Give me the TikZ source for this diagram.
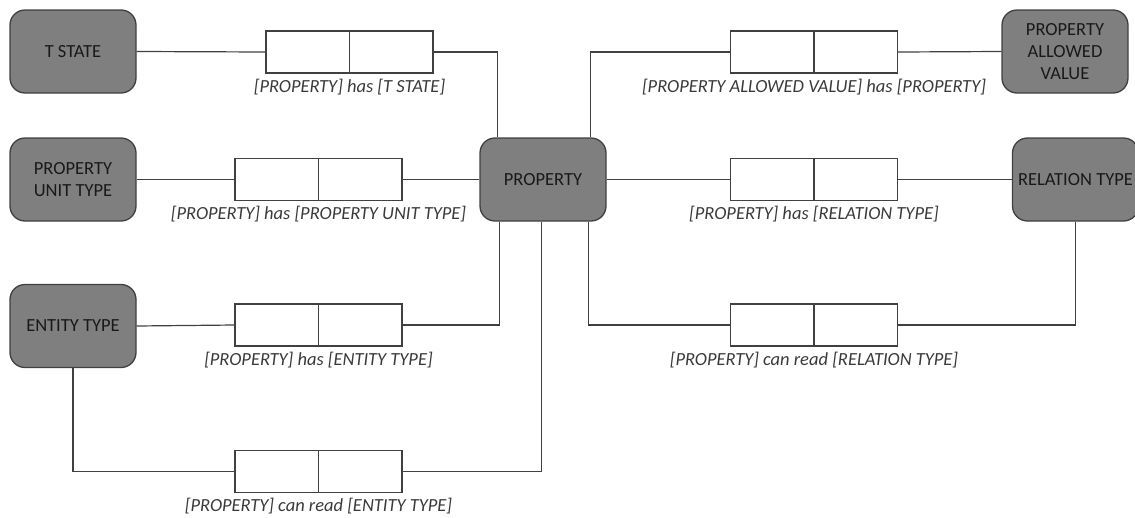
\documentclass[tikz,border=0pt]{standalone}
\usepackage{fontspec}
\setmainfont{Carlito}
\usetikzlibrary{calc}
\definecolor{entfill}{HTML}{7F7F7F}
\definecolor{inkline}{HTML}{404040}
\definecolor{labelink}{HTML}{3A3A3A}
\begin{document}
\begin{tikzpicture}[x=1pt,y=-1pt,
  entity/.style={draw=inkline, line width=1.3pt, fill=entfill, rounded corners=15pt,
    minimum width=126pt, minimum height=83pt, inner sep=0pt, align=center,
    font=\fontsize{18.5}{22}\selectfont, text=black!90},
  relbox/.style={draw=inkline, line width=1.2pt, fill=white,
    minimum width=167pt, minimum height=42pt, inner sep=0pt,
    path picture={\draw[inkline, line width=1.2pt]
      (path picture bounding box.north) -- (path picture bounding box.south);}},
  rellabel/.style={anchor=north, inner sep=0pt, text=labelink,
    font=\fontsize{18.5}{20}\selectfont\itshape},
  conn/.style={draw=inkline, line width=1.2pt}]
\useasboundingbox (0,0) rectangle (1135,517);

% entities
\node[entity] (ts)   at (73,51.5)    {T STATE};
\node[entity] (put)  at (73,179.5)   {PROPERTY\\UNIT TYPE};
\node[entity] (et)   at (73,326)     {ENTITY TYPE};
\node[entity] (prop) at (543,179.5)  {PROPERTY};
\node[entity] (pav)  at (1065,51.5)  {PROPERTY\\ALLOWED\\VALUE};
\node[entity] (rt)   at (1075.5,179.5) {RELATION TYPE};

% relationship boxes
\node[relbox] (r1) at (349.5,52)  {};
\node[relbox] (r2) at (318.5,179.5) {};
\node[relbox] (r3) at (318.5,325) {};
\node[relbox] (r4) at (318.5,471.5) {};
\node[relbox] (r5) at (814,52)  {};
\node[relbox] (r6) at (814,179.5) {};
\node[relbox] (r7) at (814,325) {};

% relationship captions
\node[rellabel] (l1) at ([yshift=-5pt]r1.south) {[PROPERTY] has [T STATE]};
\node[rellabel] (l2) at ([yshift=-5pt]r2.south) {[PROPERTY] has [PROPERTY UNIT TYPE]};
\node[rellabel] (l3) at ([yshift=-5pt]r3.south) {[PROPERTY] has [ENTITY TYPE]};
\node[rellabel] (l4) at ([yshift=-5pt]r4.south) {[PROPERTY] can read [ENTITY TYPE]};
\node[rellabel] (l5) at ([yshift=-5pt]r5.south) {[PROPERTY ALLOWED VALUE] has [PROPERTY]};
\node[rellabel] (l6) at ([yshift=-5pt]r6.south) {[PROPERTY] has [RELATION TYPE]};
\node[rellabel] (l7) at ([yshift=-5pt]r7.south) {[PROPERTY] can read [RELATION TYPE]};

% connectors
\draw[conn] (ts.east) -- (r1.west);
\draw[conn] (r1.east) -| ([xshift=18pt]prop.north west);
\draw[conn] (put.east) -- (r2.west);
\draw[conn] (r2.east) -- (prop.west);
\draw[conn] (et.east) -- (r3.west);
\draw[conn] (r3.east) -| ([xshift=20pt]prop.south west);
\draw[conn] (et.south) |- (r4.west);
\draw[conn] (r4.east) -| ([xshift=62pt]prop.south west);
\draw[conn] ([xshift=-16pt]prop.north east) |- (r5.west);
\draw[conn] (r5.east) -- (pav.west);
\draw[conn] (prop.east) -- (r6.west);
\draw[conn] (r6.east) -- (rt.west);
\draw[conn] ([xshift=-18pt]prop.south east) |- (r7.west);
\draw[conn] (r7.east) -| (rt.south);
\end{tikzpicture}
\end{document}
